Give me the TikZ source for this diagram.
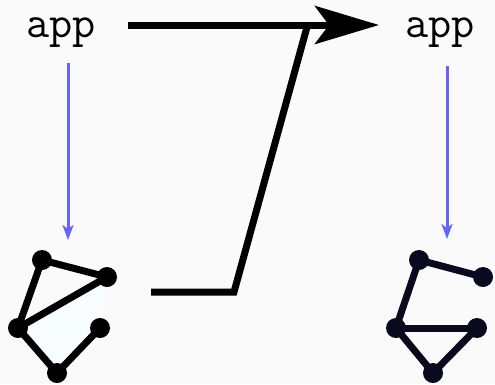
\documentclass[tikz,border=0pt]{standalone}
\usetikzlibrary{arrows.meta}
\definecolor{bg}{HTML}{FAFAFA}
\definecolor{bluearr}{HTML}{6666FF}
\definecolor{navy}{HTML}{0A0A1E}
\definecolor{paleface}{HTML}{F8FDFF}
\begin{document}
\begin{tikzpicture}[x=1pt,y=-1pt,
  lbl/.style={font=\fontsize{45}{50}\selectfont\ttfamily,inner sep=0pt,anchor=base},
  vtx/.style={circle,fill=#1,minimum size=20pt,inner sep=0pt},
  gedge/.style={line width=7pt,draw=#1},
  blarrow/.style={draw=bluearr,line width=3pt,-{Stealth[length=15pt,width=11pt,inset=4pt]}},
  bigarrow/.style={line width=7pt,-{Stealth[length=64pt,width=38pt,inset=14pt]}},
  zig/.style={line width=7pt,line join=miter}]
\fill[bg] (0,0) rectangle (495,384);
\useasboundingbox (0,0) rectangle (495,384);
% labels
\node[lbl] (appL) at (61,37) {app};
\node[lbl] (appR) at (440,37) {app};
% blue arrows
\coordinate (bLs) at (68,63);
\coordinate (bLe) at (68,240);
\coordinate (bRs) at (447,66);
\coordinate (bRe) at (447,239);
\draw[blarrow] (bLs) -- (bLe);
\draw[blarrow] (bRs) -- (bRe);
% big arrow
\coordinate (hs) at (128,25);
\coordinate (he) at (379,25);
\draw[bigarrow] (hs) -- (he);
% zigzag
\coordinate (zs) at (151,292);
\coordinate (zc) at (234,292);
\coordinate (zt) at (307,27);
\draw[zig] (zs) -- (zc) -- (zt);
% left graph
\coordinate (lA) at (42,260);
\coordinate (lB) at (107,277);
\coordinate (lC) at (18,328);
\coordinate (lD) at (100,328);
\coordinate (lE) at (57,373);
\fill[paleface] (lC) -- (lB) -- (lD) -- (lE) -- cycle;
\draw[gedge=black] (lA) -- (lB);
\draw[gedge=black] (lA) -- (lC);
\draw[gedge=black] (lB) -- (lC);
\draw[gedge=black] (lC) -- (lE);
\draw[gedge=black] (lE) -- (lD);
\foreach \n in {lA,lB,lC,lD,lE} \node[vtx=black] (n\n) at (\n) {};
% right graph
\coordinate (rA) at (419,260);
\coordinate (rB) at (483,277);
\coordinate (rC) at (396,328);
\coordinate (rD) at (477,328);
\coordinate (rE) at (433,373);
\draw[gedge=navy] (rA) -- (rB);
\draw[gedge=navy] (rA) -- (rC);
\draw[gedge=navy] (rC) -- (rD);
\draw[gedge=navy] (rC) -- (rE);
\draw[gedge=navy] (rE) -- (rD);
\foreach \n in {rA,rB,rC,rD,rE} \node[vtx=navy] (n\n) at (\n) {};
\end{tikzpicture}
\end{document}
